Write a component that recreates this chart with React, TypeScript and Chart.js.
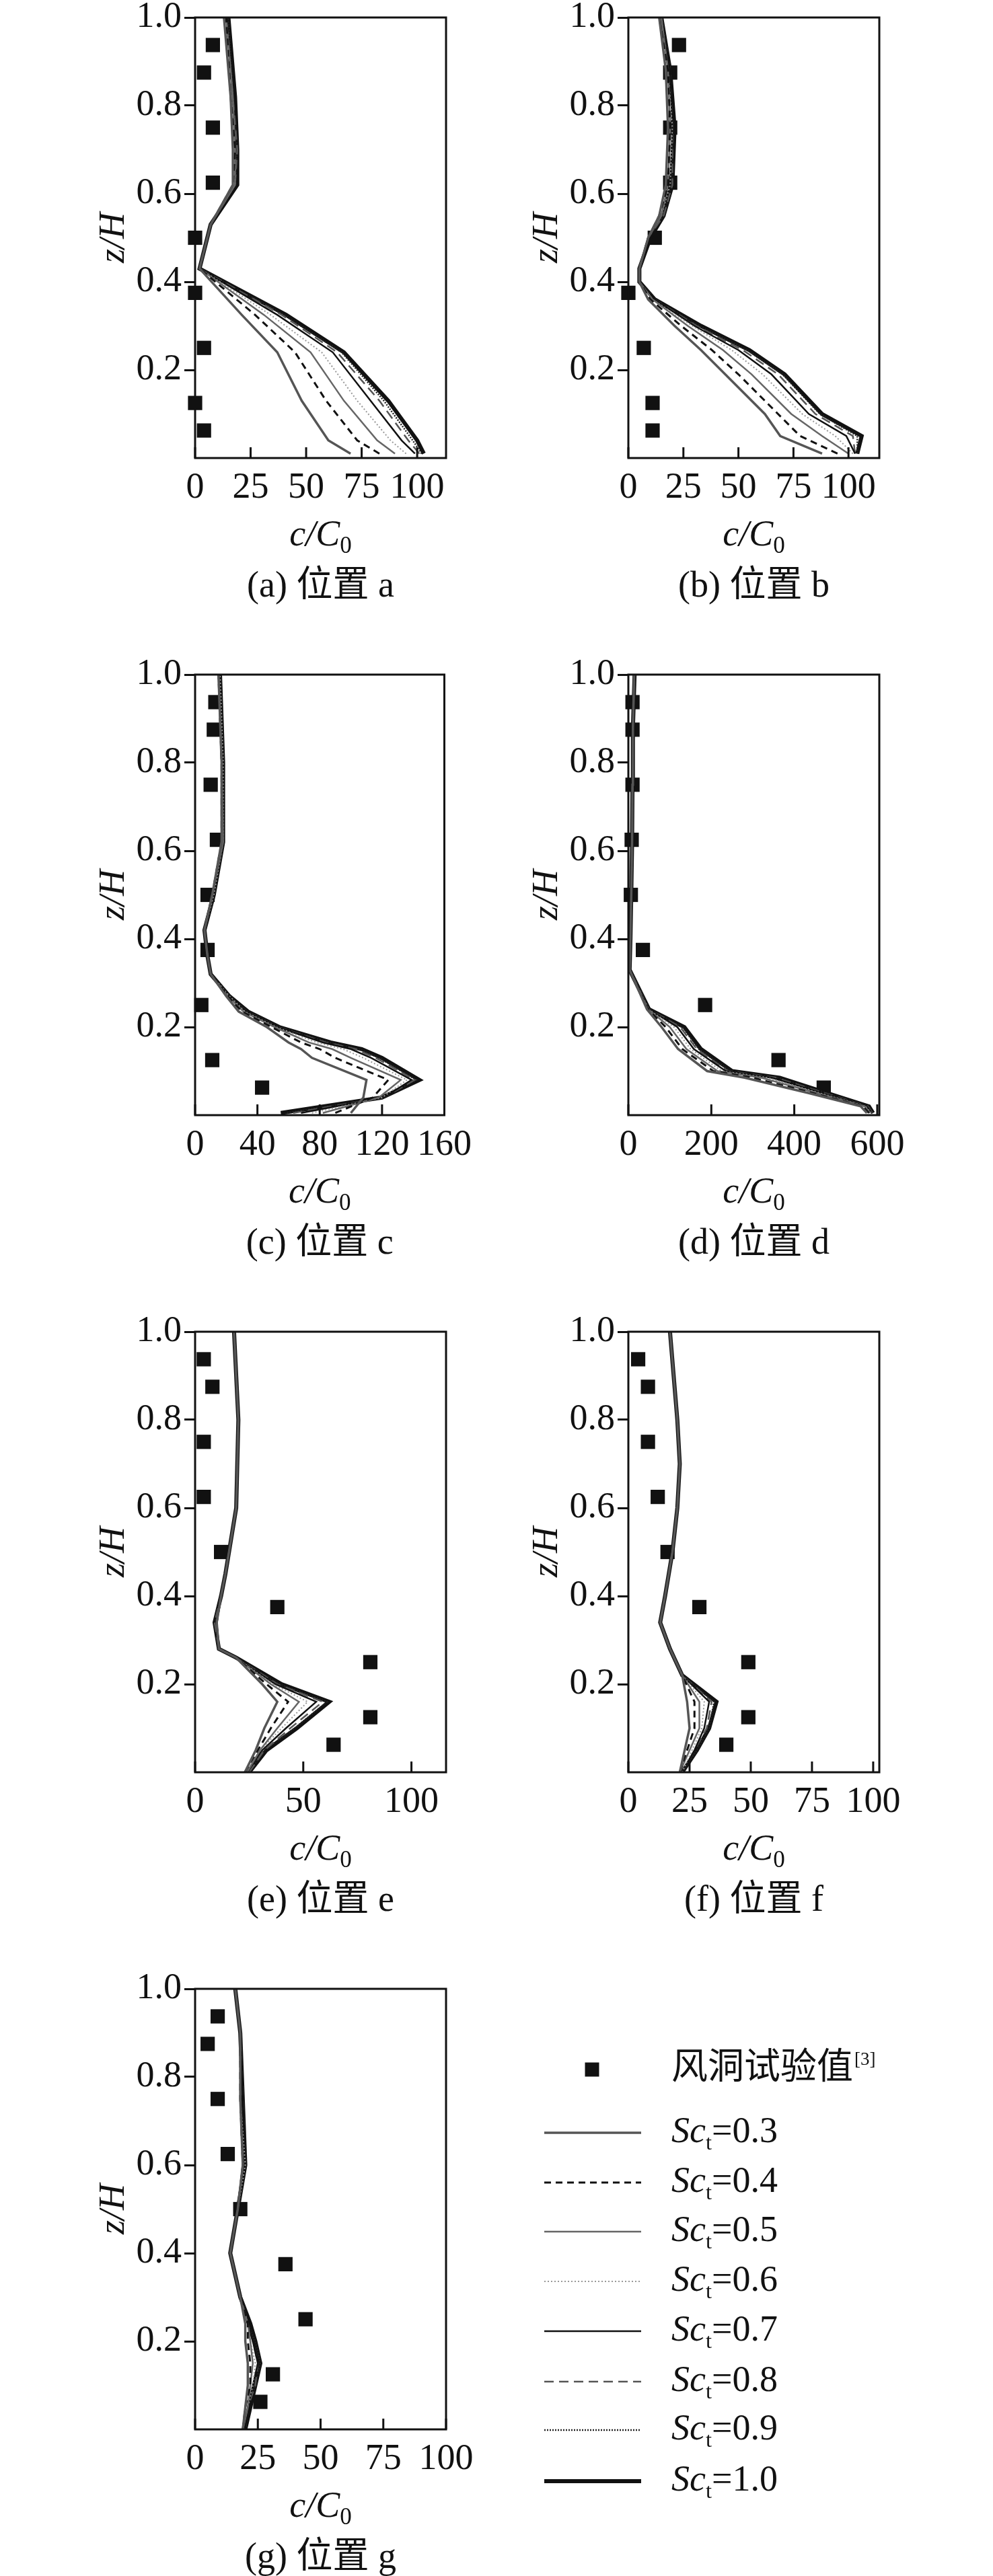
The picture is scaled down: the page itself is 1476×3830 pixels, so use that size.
import React, { useEffect, useRef } from "react";
import { Chart, registerables } from "chart.js";
Chart.register(...registerables);

const SC_LABELS = ["0.3", "0.4", "0.5", "0.6", "0.7", "0.8", "0.9", "1.0"];
const EXP_LABEL = "风洞试验值";
const EXP_Z = [0.0625, 0.125, 0.25, 0.375, 0.5, 0.625, 0.75, 0.875, 0.9375];
const Y_TICKS = [0.2, 0.4, 0.6, 0.8, 1.0];

// Panel a
const zA = [0.01, 0.04, 0.13, 0.24, 0.325, 0.43, 0.53, 0.62, 0.7, 0.82, 1.0];
const a03 = [70, 60, 48, 37, 21, 2, 7, 17, 17, 16, 13];
const a04 = [83, 73, 59, 45, 27, 2, 7, 17, 18, 16, 14];
const a05 = [90, 82, 67, 52, 31, 2, 7, 18, 18, 17, 14];
const a06 = [95, 88, 73, 57, 34, 2, 7, 18, 18, 17, 14];
const a07 = [99, 93, 79, 62, 37, 2, 7, 18, 18, 17, 14];
const a08 = [101, 96, 83, 64, 39, 2, 7, 18, 19, 17, 14];
const a09 = [102, 98, 85, 66, 40, 2, 7, 18, 19, 17, 15];
const a10 = [103, 100, 87, 67, 41, 2, 7, 19, 19, 18, 15];
const expA = [4, 0, 4, 0, 0, 8, 8, 4, 8];
const ticksA = [0, 25, 50, 75, 100];

// Panel b
const zB = [0.01, 0.05, 0.1, 0.19, 0.245, 0.3, 0.36, 0.4, 0.43, 0.5, 0.55, 0.62, 0.75, 0.88, 1.0];
const b03 = [88, 69, 62, 44, 33, 21, 9, 5, 5, 9, 14, 17, 18, 17, 14];
const b04 = [95, 78, 68, 50, 38, 24, 10, 5, 5, 9, 14, 18, 19, 18, 14];
const b05 = [100, 88, 74, 56, 43, 27, 11, 5, 5, 9, 15, 18, 19, 18, 15];
const b06 = [102, 94, 79, 61, 47, 29, 11, 5, 5, 9, 15, 19, 20, 18, 15];
const b07 = [103, 99, 82, 65, 50, 30, 12, 5, 5, 9, 15, 19, 20, 19, 15];
const b08 = [103, 102, 85, 68, 52, 31, 12, 5, 5, 9, 16, 20, 20, 19, 15];
const b09 = [104, 104, 87, 70, 54, 32, 12, 5, 5, 9, 16, 20, 20, 19, 15];
const b10 = [104, 106, 88, 71, 55, 33, 12, 5, 5, 10, 16, 20, 21, 19, 15];
const expB = [11, 11, 7, 0, 12, 19, 19, 19, 23];
const ticksB = [0, 25, 50, 75, 100];

// Panel c
const zC = [0.005, 0.04, 0.08, 0.13, 0.15, 0.165, 0.2, 0.235, 0.27, 0.32, 0.36, 0.42, 0.5, 0.62, 0.8, 1.0];
const c03 = [100, 108, 110, 75, 68, 60, 46, 28, 20, 10, 8, 6, 11, 17, 17, 15];
const c04 = [90, 114, 124, 90, 80, 68, 49, 30, 21, 10, 8, 6, 11, 17, 17, 15];
const c05 = [82, 118, 132, 100, 88, 73, 51, 31, 21, 10, 8, 6, 11, 18, 17, 15];
const c06 = [75, 120, 136, 108, 95, 78, 52, 32, 22, 10, 8, 6, 12, 18, 18, 16];
const c07 = [68, 121, 139, 113, 100, 82, 53, 33, 22, 10, 8, 6, 12, 18, 18, 16];
const c08 = [63, 121, 141, 116, 103, 84, 53, 33, 22, 10, 8, 6, 12, 18, 18, 16];
const c09 = [59, 121, 142, 118, 105, 86, 54, 34, 22, 10, 8, 6, 12, 18, 18, 16];
const c10 = [55, 120, 144, 120, 107, 87, 54, 34, 22, 10, 8, 6, 12, 18, 18, 16];
const expC = [43, 11, 4, 8, 8, 14, 10, 12, 13];
const ticksC = [0, 40, 80, 120, 160];

// Panel d
const zD = [0.005, 0.02, 0.05, 0.085, 0.1, 0.15, 0.2, 0.24, 0.33, 0.4, 0.5, 0.62, 0.75, 0.88, 1.0];
const d03 = [575, 560, 435, 280, 190, 120, 80, 45, 3, 5, 7, 9, 10, 11, 14];
const d04 = [580, 565, 445, 300, 205, 130, 90, 47, 3, 5, 7, 9, 10, 11, 14];
const d05 = [583, 570, 455, 320, 215, 140, 100, 48, 3, 5, 7, 9, 10, 11, 14];
const d06 = [585, 572, 462, 335, 225, 150, 110, 49, 3, 5, 7, 9, 10, 11, 14];
const d07 = [587, 575, 468, 345, 235, 158, 118, 50, 3, 5, 7, 9, 10, 11, 15];
const d08 = [588, 577, 473, 355, 240, 165, 125, 50, 3, 5, 7, 9, 10, 11, 15];
const d09 = [589, 579, 477, 360, 245, 170, 130, 50, 3, 5, 7, 9, 10, 11, 15];
const d10 = [590, 580, 480, 365, 250, 175, 135, 50, 3, 5, 7, 9, 10, 11, 15];
const expD = [471, 362, 185, 35, 6, 8, 10, 10, 10];
const ticksD = [0, 200, 400, 600];

// Panel e
const zE = [0, 0.05, 0.1, 0.16, 0.2, 0.26, 0.28, 0.34, 0.4, 0.45, 0.6, 0.8, 1.0];
const e03 = [23, 28, 32, 38, 31, 19, 11, 10, 12, 14, 19, 20, 18];
const e04 = [23, 29, 35, 43, 33, 19, 11, 10, 12, 14, 19, 20, 18];
const e05 = [24, 30, 38, 48, 35, 19, 11, 10, 12, 14, 19, 20, 18];
const e06 = [24, 30, 40, 52, 36, 19, 11, 10, 12, 14, 19, 20, 18];
const e07 = [24, 31, 42, 56, 37, 19, 11, 10, 12, 14, 19, 20, 18];
const e08 = [25, 32, 44, 59, 38, 19, 11, 9, 12, 14, 19, 20, 18];
const e09 = [25, 32, 46, 61, 39, 19, 11, 9, 12, 14, 19, 20, 18];
const e10 = [25, 33, 47, 62, 40, 19, 11, 9, 12, 14, 19, 20, 18];
const expE = [64, 81, 81, 38, 12, 4, 4, 8, 4];
const ticksE = [0, 50, 100];

// Panel f
const zF = [0, 0.05, 0.1, 0.16, 0.22, 0.28, 0.34, 0.4, 0.5, 0.6, 0.7, 0.8, 1.0];
const f03 = [21, 23, 25, 24, 22, 17, 13, 15, 18, 20, 21, 20, 17];
const f04 = [21, 24, 27, 27, 22, 17, 13, 15, 18, 20, 21, 20, 17];
const f05 = [21, 25, 29, 29, 22, 17, 13, 15, 18, 20, 21, 20, 17];
const f06 = [22, 26, 30, 31, 22, 17, 13, 15, 18, 20, 21, 20, 17];
const f07 = [22, 27, 31, 33, 22, 17, 13, 15, 18, 20, 21, 20, 17];
const f08 = [22, 27, 32, 34, 22, 17, 13, 15, 18, 20, 21, 20, 17];
const f09 = [22, 28, 33, 35, 22, 17, 13, 15, 18, 20, 21, 20, 17];
const f10 = [22, 28, 33, 36, 22, 17, 13, 15, 18, 20, 21, 20, 17];
const expF = [40, 49, 49, 29, 16, 12, 8, 8, 4];
const ticksF = [0, 25, 50, 75, 100];

// Panel g
const zG = [0, 0.05, 0.1, 0.15, 0.2, 0.24, 0.3, 0.4, 0.5, 0.6, 0.75, 0.9, 1.0];
const g03 = [19, 20, 21, 21, 20, 20, 18, 14, 17, 19, 18, 18, 16];
const g04 = [19, 20, 22, 22, 21, 21, 18, 14, 17, 19, 18, 18, 16];
const g05 = [19, 21, 22, 23, 22, 21, 18, 14, 17, 19, 18, 18, 16];
const g06 = [19, 21, 23, 24, 22, 21, 18, 14, 17, 20, 18, 18, 16];
const g07 = [20, 21, 23, 25, 23, 21, 18, 14, 17, 20, 19, 18, 16];
const g08 = [20, 21, 24, 25, 23, 21, 18, 14, 17, 20, 19, 18, 16];
const g09 = [20, 21, 24, 26, 24, 21, 18, 14, 17, 20, 19, 18, 16];
const g10 = [20, 22, 24, 26, 24, 22, 18, 14, 17, 20, 19, 18, 16];
const expG = [26, 31, 44, 36, 18, 13, 9, 5, 9];
const ticksG = [0, 25, 50, 75, 100];

const STYLES = [
  { color: "#555", width: 3.5, dash: [] as number[] },
  { color: "#111", width: 3, dash: [10, 7] },
  { color: "#666", width: 2.5, dash: [] },
  { color: "#999", width: 2, dash: [2, 3] },
  { color: "#111", width: 2.5, dash: [] },
  { color: "#555", width: 2.5, dash: [14, 8] },
  { color: "#222", width: 2.5, dash: [2, 2] },
  { color: "#111", width: 6, dash: [] },
];

const FONT = '"Liberation Serif", "Times New Roman", "Noto Sans CJK SC", serif';
const FS = 54;

const PANELS = [
  { key: "a", z: zA, s: [a03, a04, a05, a06, a07, a08, a09, a10], exp: expA, ticks: ticksA, max: 113, left: 290, top: 26 },
  { key: "b", z: zB, s: [b03, b04, b05, b06, b07, b08, b09, b10], exp: expB, ticks: ticksB, max: 114, left: 934, top: 26 },
  { key: "c", z: zC, s: [c03, c04, c05, c06, c07, c08, c09, c10], exp: expC, ticks: ticksC, max: 160, left: 290, top: 1003 },
  { key: "d", z: zD, s: [d03, d04, d05, d06, d07, d08, d09, d10], exp: expD, ticks: ticksD, max: 605, left: 934, top: 1003 },
  { key: "e", z: zE, s: [e03, e04, e05, e06, e07, e08, e09, e10], exp: expE, ticks: ticksE, max: 116, left: 290, top: 1980 },
  { key: "f", z: zF, s: [f03, f04, f05, f06, f07, f08, f09, f10], exp: expF, ticks: ticksF, max: 102.5, left: 934, top: 1980 },
  { key: "g", z: zG, s: [g03, g04, g05, g06, g07, g08, g09, g10], exp: expG, ticks: ticksG, max: 100, left: 290, top: 2957 },
];

const PW = 373, PH = 655, PAD_T = 50, YW = 290, XH = 240;

const deco = {
  id: "deco",
  afterDraw(chart: any, _a: any, opts: any) {
    const { ctx, chartArea: ca } = chart;
    ctx.save();
    ctx.strokeStyle = "#111";
    ctx.lineWidth = 3;
    ctx.setLineDash([]);
    ctx.strokeRect(ca.left, ca.top, ca.right - ca.left, ca.bottom - ca.top);
    // inward x ticks
    const xs = chart.scales.x;
    opts.ticks.forEach((t: number) => {
      const px = xs.getPixelForValue(t);
      ctx.beginPath();
      ctx.moveTo(px, ca.bottom);
      ctx.lineTo(px, ca.bottom - 16);
      ctx.stroke();
    });
    ctx.fillStyle = "#111";
    ctx.textBaseline = "middle";
    // y title z/H
    ctx.save();
    ctx.translate(ca.left - 120, (ca.top + ca.bottom) / 2);
    ctx.rotate(-Math.PI / 2);
    ctx.textAlign = "center";
    ctx.font = `italic ${FS}px ${FONT}`;
    ctx.fillText("z/H", 0, 0);
    ctx.restore();
    // x title c/C0
    const cx = (ca.left + ca.right) / 2;
    const ty = ca.bottom + 116;
    ctx.font = `italic ${FS}px ${FONT}`;
    const w1 = ctx.measureText("c/C").width;
    ctx.font = `${FS * 0.65}px ${FONT}`;
    const w2 = ctx.measureText("0").width;
    let x0 = cx - (w1 + w2) / 2;
    ctx.textAlign = "left";
    ctx.font = `italic ${FS}px ${FONT}`;
    ctx.fillText("c/C", x0, ty);
    ctx.font = `${FS * 0.65}px ${FONT}`;
    ctx.fillText("0", x0 + w1, ty + 16);
    // caption
    ctx.textAlign = "center";
    ctx.font = `${FS}px ${FONT}`;
    ctx.fillText(`(${opts.key}) 位置 ${opts.key}`, cx, ca.bottom + 192);
    // legend
    if (opts.legend) {
      const ds = chart.data.datasets;
      const rows = [3077, 3171, 3245, 3318, 3392, 3466, 3541, 3613, 3689].map((y) => y - opts.canvasTop);
      const exp = ds[ds.length - 1];
      ctx.fillStyle = exp.backgroundColor;
      ctx.fillRect(880 - 10.5, rows[0] - 10.5, 21, 21);
      ctx.fillStyle = "#111";
      ctx.textAlign = "left";
      ctx.font = `${FS}px ${FONT}`;
      ctx.fillText(exp.label, 998, rows[0]);
      const lw = ctx.measureText(exp.label).width;
      ctx.font = `${FS * 0.5}px ${FONT}`;
      ctx.fillText("[3]", 998 + lw + 2, rows[0] - 14);
      for (let i = 0; i < 8; i++) {
        const d = ds[i];
        const y = rows[i + 1];
        ctx.strokeStyle = d.borderColor;
        ctx.lineWidth = d.borderWidth;
        ctx.setLineDash(d.borderDash);
        ctx.beginPath();
        ctx.moveTo(809, y);
        ctx.lineTo(953, y);
        ctx.stroke();
        ctx.setLineDash([]);
        ctx.font = `italic ${FS}px ${FONT}`;
        ctx.fillText("Sc", 998, y);
        const w = ctx.measureText("Sc").width;
        ctx.font = `${FS * 0.6}px ${FONT}`;
        ctx.fillText("t", 998 + w, y + 16);
        const wt = ctx.measureText("t").width;
        ctx.font = `${FS}px ${FONT}`;
        ctx.fillText("=" + SC_LABELS[i], 998 + w + wt, y);
      }
    }
    ctx.restore();
  },
};

function Panel({ p }: { p: (typeof PANELS)[number] }) {
  const ref = useRef<HTMLCanvasElement>(null);
  const isG = p.key === "g";
  const cLeft = p.left - YW;
  const cTop = p.top - PAD_T;
  const width = isG ? 1476 - cLeft : YW + PW + 50;
  const height = PAD_T + PH + XH;
  useEffect(() => {
    const datasets: any[] = p.s.map((vals, i) => ({
      label: "Sc_t=" + SC_LABELS[i],
      data: vals.map((v, j) => ({ x: v, y: p.z[j] })),
      showLine: true,
      borderColor: STYLES[i].color,
      borderWidth: STYLES[i].width,
      borderDash: STYLES[i].dash,
      pointRadius: 0,
      tension: 0,
    }));
    datasets.push({
      label: EXP_LABEL,
      data: p.exp.map((v, j) => ({ x: v, y: EXP_Z[j] })),
      showLine: false,
      pointStyle: "rect",
      pointRadius: 15,
      backgroundColor: "#111",
      borderColor: "#111",
      borderWidth: 0,
      clip: false,
    });
    const chart = new Chart(ref.current!, {
      type: "scatter",
      data: { datasets },
      plugins: [deco],
      options: {
        animation: false,
        responsive: false,
        devicePixelRatio: 1,
        layout: { padding: { top: PAD_T, right: width - YW - PW, left: 0, bottom: 0 } },
        plugins: {
          legend: { display: false },
          tooltip: { enabled: false },
          deco: { ticks: p.ticks, key: p.key, legend: isG, canvasTop: cTop },
        } as any,
        scales: {
          x: {
            type: "linear",
            min: 0,
            max: p.max,
            afterBuildTicks: (s: any) => { s.ticks = p.ticks.map((v) => ({ value: v })); },
            afterFit: (s: any) => { s.height = XH; },
            grid: { display: false, drawTicks: false },
            border: { display: false },
            ticks: { padding: 12, color: "#111", font: { family: FONT, size: FS }, maxRotation: 0, autoSkip: false },
          },
          y: {
            type: "linear",
            min: 0,
            max: 1,
            afterBuildTicks: (s: any) => { s.ticks = Y_TICKS.map((v) => ({ value: v })); },
            afterFit: (s: any) => { s.width = YW; },
            grid: { drawOnChartArea: false, drawTicks: true, tickLength: 16, color: "#111", lineWidth: 3 },
            border: { display: false },
            ticks: { padding: 4, color: "#111", font: { family: FONT, size: FS }, callback: (v: any) => Number(v).toFixed(1) },
          },
        },
      },
    });
    return () => chart.destroy();
  }, []);
  return (
    <canvas
      ref={ref}
      width={width}
      height={height}
      style={{ position: "absolute", left: cLeft, top: cTop, width, height }}
    />
  );
}

export default function App() {
  return (
    <div style={{ position: "absolute", left: 0, top: 0, width: 1476, height: 3830, background: "#fff", overflow: "hidden" }}>
      {PANELS.map((p) => (
        <Panel key={p.key} p={p} />
      ))}
    </div>
  );
}
